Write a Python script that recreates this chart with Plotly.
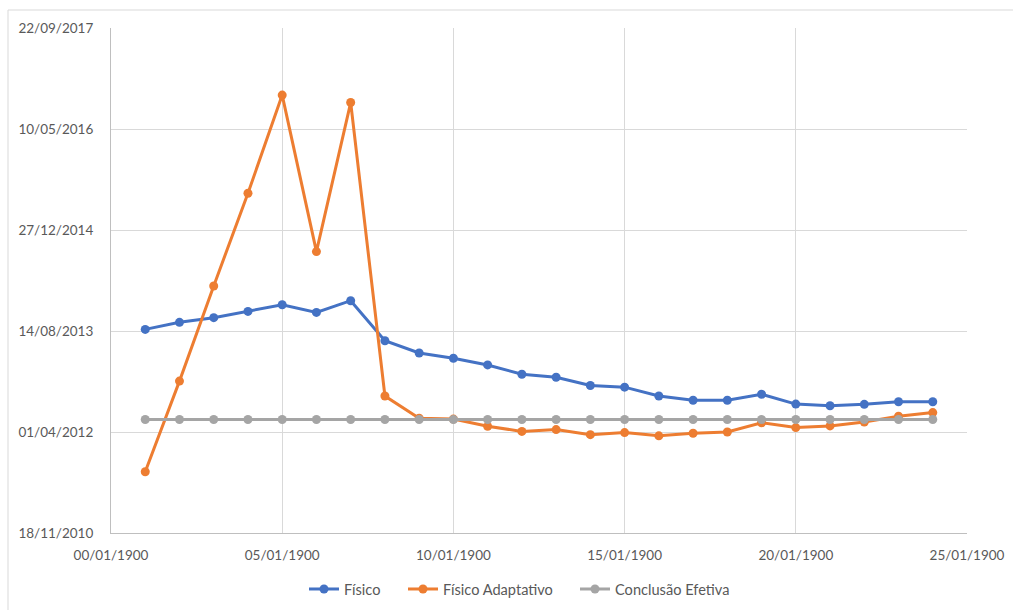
import plotly.graph_objects as go

# Day index of each observation (Excel serial days, shown as dd/mm/1900)
dias = list(range(1, 25))

# Completion dates as Excel serial day numbers
fisico = [41508, 41543, 41566, 41597, 41630, 41592, 41650, 41452,
          41391, 41365, 41332, 41286, 41271, 41230, 41222, 41178,
          41157, 41157, 41187, 41138, 41130, 41137, 41150, 41150]
fisico_adaptativo = [40803, 41252, 41723, 42182, 42668, 41893, 42631, 41178,
                     41068, 41064, 41028, 41003, 41012, 40987, 40997, 40981,
                     40994, 41000, 41046, 41022, 41030, 41049, 41078, 41096]
conclusao_efetiva = [41062] * 24

series_names = ["Físico", "Físico Adaptativo", "Conclusão Efetiva"]
series_colors = ["#4472C4", "#ED7D31", "#A5A5A5"]

x_tick_values = [0, 5, 10, 15, 20, 25]
x_tick_labels = ["00/01/1900", "05/01/1900", "10/01/1900",
                 "15/01/1900", "20/01/1900", "25/01/1900"]
y_tick_values = [40500, 41000, 41500, 42000, 42500, 43000]
y_tick_labels = ["18/11/2010", "01/04/2012", "14/08/2013",
                 "27/12/2014", "10/05/2016", "22/09/2017"]

FONT = "Lato, 'Open Sans', sans-serif"
TEXT_COLOR = "#595959"
GRID_COLOR = "#D9D9D9"
AXIS_COLOR = "#BFBFBF"

W, H = 1013, 610
L, R, T, B = 111, 46, 28, 77
pw, ph = W - L - R, H - T - B

# one legend per series so the entries sit spaced out along the bottom
legend_ids = ["legend", "legend2", "legend3"]
legend_left_px = [304, 403, 575]

fig = go.Figure()
for name, values, color, lg in zip(series_names,
                                   [fisico, fisico_adaptativo, conclusao_efetiva],
                                   series_colors, legend_ids):
    fig.add_trace(go.Scatter(
        x=dias, y=values, name=name, mode="lines+markers",
        line=dict(color=color, width=3),
        marker=dict(color=color, size=9),
        legend=lg,
    ))

legend_style = dict(orientation="h", xanchor="left", xref="container",
                    y=1 - 589 / H, yanchor="middle", yref="container",
                    font=dict(family=FONT, size=14.6, color=TEXT_COLOR),
                    itemwidth=30, bgcolor="rgba(0,0,0,0)")

fig.update_layout(
    width=W, height=H,
    margin=dict(l=L, r=R, t=T, b=B, pad=0, autoexpand=False),
    paper_bgcolor="white", plot_bgcolor="white",
    font=dict(family=FONT, size=13.5, color=TEXT_COLOR),
    showlegend=True,
    xaxis=dict(range=[0, 25], tickvals=x_tick_values, ticktext=x_tick_labels,
               showgrid=True, gridcolor=GRID_COLOR, gridwidth=1,
               showline=True, linecolor=AXIS_COLOR, linewidth=1,
               zeroline=False, ticks="", ticklabelstandoff=10),
    yaxis=dict(range=[40500, 43000], tickvals=y_tick_values, ticktext=y_tick_labels,
               showgrid=True, gridcolor=GRID_COLOR, gridwidth=1,
               showline=True, linecolor=AXIS_COLOR, linewidth=1,
               zeroline=False, ticks="", ticklabelstandoff=14),
)
for lg, px in zip(legend_ids, legend_left_px):
    fig.update_layout({lg: dict(legend_style, x=px / W)})

# Light frame around the whole chart area
fig.add_shape(type="rect", xref="paper", yref="paper",
              x0=(8 - L) / pw, x1=1.2, y0=-0.3, y1=1 + (T - 10) / ph,
              line=dict(color=GRID_COLOR, width=1), fillcolor="rgba(0,0,0,0)",
              layer="below")

fig.write_html("out.html")
